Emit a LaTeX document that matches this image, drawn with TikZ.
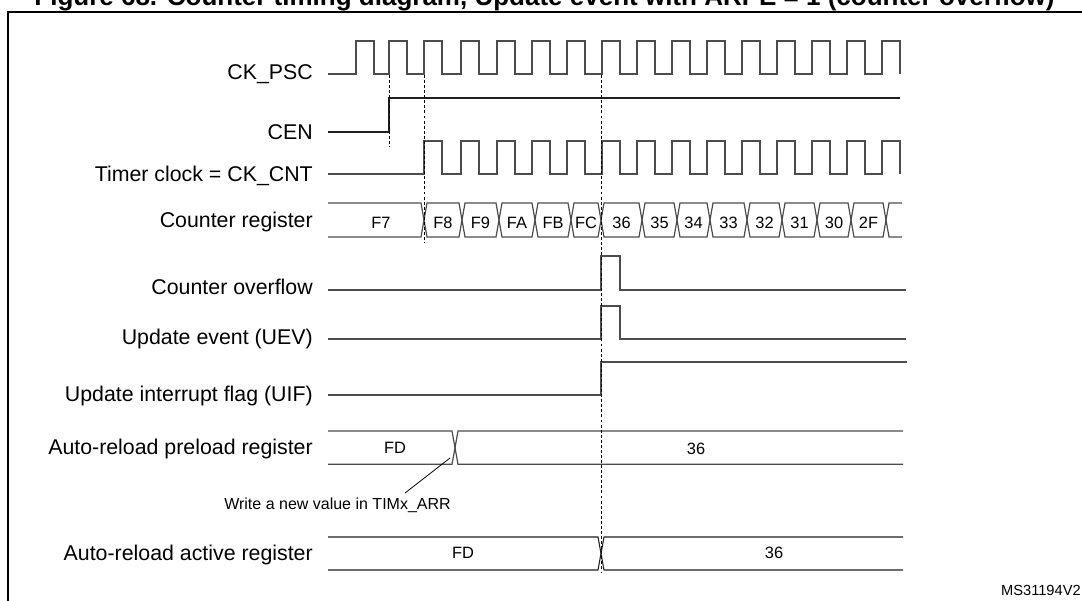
\documentclass[tikz,border=0pt]{standalone}
\usepackage{fontspec}
\setmainfont{Liberation Sans}
\usepackage{tikz}

\begin{document}
\begin{tikzpicture}[x=0.75pt, y=-0.75pt]
\tikzstyle{sig} = [draw=black!70, line width=0.9pt, line join=miter]
\tikzstyle{sigdark} = [draw=black!88, line width=0.8pt, line join=miter]
\tikzstyle{guide} = [draw=black, line width=0.6pt, dash pattern=on 2.2pt off 1.6pt]
\tikzstyle{lbl} = [anchor=base east, inner sep=0pt, font=\fontsize{16}{18}\selectfont]
\tikzstyle{val} = [anchor=base, inner sep=0pt, font=\fontsize{12.3}{14}\selectfont]

\useasboundingbox (0,0) rectangle (1082,600);
\clip (0,0) rectangle (1082,600);

\node[anchor=base, inner sep=0pt, font=\fontsize{19.5}{22}\selectfont\bfseries] (title) at (544.5,5.5)
{Figure 68. Counter timing diagram, Update event with ARPE = 1 (counter overflow)};
\draw[line width=1.5pt] (7.5,610) -- (7.5,11.7) -- (1090,11.7);

\node[lbl] (psc) at (313,79.5) {CK\_PSC};
\node[lbl] (cen) at (313,139.5) {CEN};
\node[lbl] (cnt) at (313,181) {Timer clock = CK\_CNT};
\node[lbl] (reg) at (313,227) {Counter register};
\node[lbl] (ovf) at (313,294) {Counter overflow};
\node[lbl] (uev) at (313,344) {Update event (UEV)};
\node[lbl] (uif) at (313,401) {Update interrupt flag (UIF)};
\node[lbl] (arp) at (313,454) {Auto-reload preload register};
\node[lbl] (ara) at (313,560) {Auto-reload active register};

\draw[sig] (328,74)
\foreach \r in {356,389,424,461,497,532,567,602,637,672,707,742,777,812,847,882} {
-- (\r,74) -- (\r,41) -- ++(18,0) -- ++(0,33)
};

\draw[sigdark] (328,132) -- (389,132) -- (389,98) -- (900,98);

\draw[sig] (328,174)
\foreach \r in {424,461,497,532,567,602,637,672,707,742,777,812,847,882} {
-- (\r,174) -- (\r,141) -- ++(18,0) -- ++(0,33)
};

\draw[sig] (328,203) -- (421,203) -- (424,220) -- (421,237) -- (328,237);
\node[val] (cF7) at (381,228) {F7};
\foreach \a/\b/\v in {424/462/F8, 462/499/F9, 499/535/FA, 535/571/FB, 571/601/FC,
601/642/36, 642/677/35, 677/710/34, 710/747/33, 747/782/32, 782/817/31, 817/851/30, 851/886/2F} {
\draw[sig] (\a,220) -- (\a+3,203) -- (\b-3,203) -- (\b,220) -- (\b-3,237) -- (\a+3,237) -- cycle;
\node[val] (c\v) at ({(\a+\b)/2},228) {\v};
}
\draw[sig] (902,203) -- (889,203) -- (886,220) -- (889,237) -- (902,237);

\draw[sig] (328,290) -- (601,290) -- ++(0,-34) -- ++(19,0) -- ++(0,34) -- (906,290);
\draw[sig] (328,339) -- (601,339) -- ++(0,-33) -- ++(19,0) -- ++(0,33) -- (906,339);
\draw[sig] (328,395) -- (601,395) -- ++(0,-33) -- (907,362);

\draw[sig] (328,431) -- (452,431) -- (455,447.7) -- (452,464.3) -- (328,464.3);
\draw[sig] (903,431) -- (458,431) -- (455,447.7) -- (458,464.3) -- (903,464.3);
\node[val] (pFD) at (395,453.3) {FD};
\node[val] (p36) at (696,454) {36};

\node[val, anchor=base east, font=\fontsize{12}{14}\selectfont] (wr) at (451,509.5) {Write a new value in TIMx\_ARR};
\coordinate (wfoot) at (405,493);
\coordinate (wtip) at (450,458);
\draw[line width=0.6pt] (wfoot) -- (wtip);

\draw[sigdark] (328,537) -- (598,537) -- (601,553.5) -- (598,570) -- (328,570);
\draw[sigdark] (903,537) -- (604,537) -- (601,553.5) -- (604,570) -- (903,570);
\node[val] (aFD) at (463,558.3) {FD};
\node[val] (a36) at (774,558.3) {36};

\draw[guide] (389,75) -- (389,147);
\draw[guide] (424,75) -- (424,243);
\draw[guide] (601,75) -- (601,572);

\node[anchor=base east, inner sep=0pt, font=\fontsize{11}{13}\selectfont] (ref) at (1081,595) {MS31194V2};
\end{tikzpicture}
\end{document}
